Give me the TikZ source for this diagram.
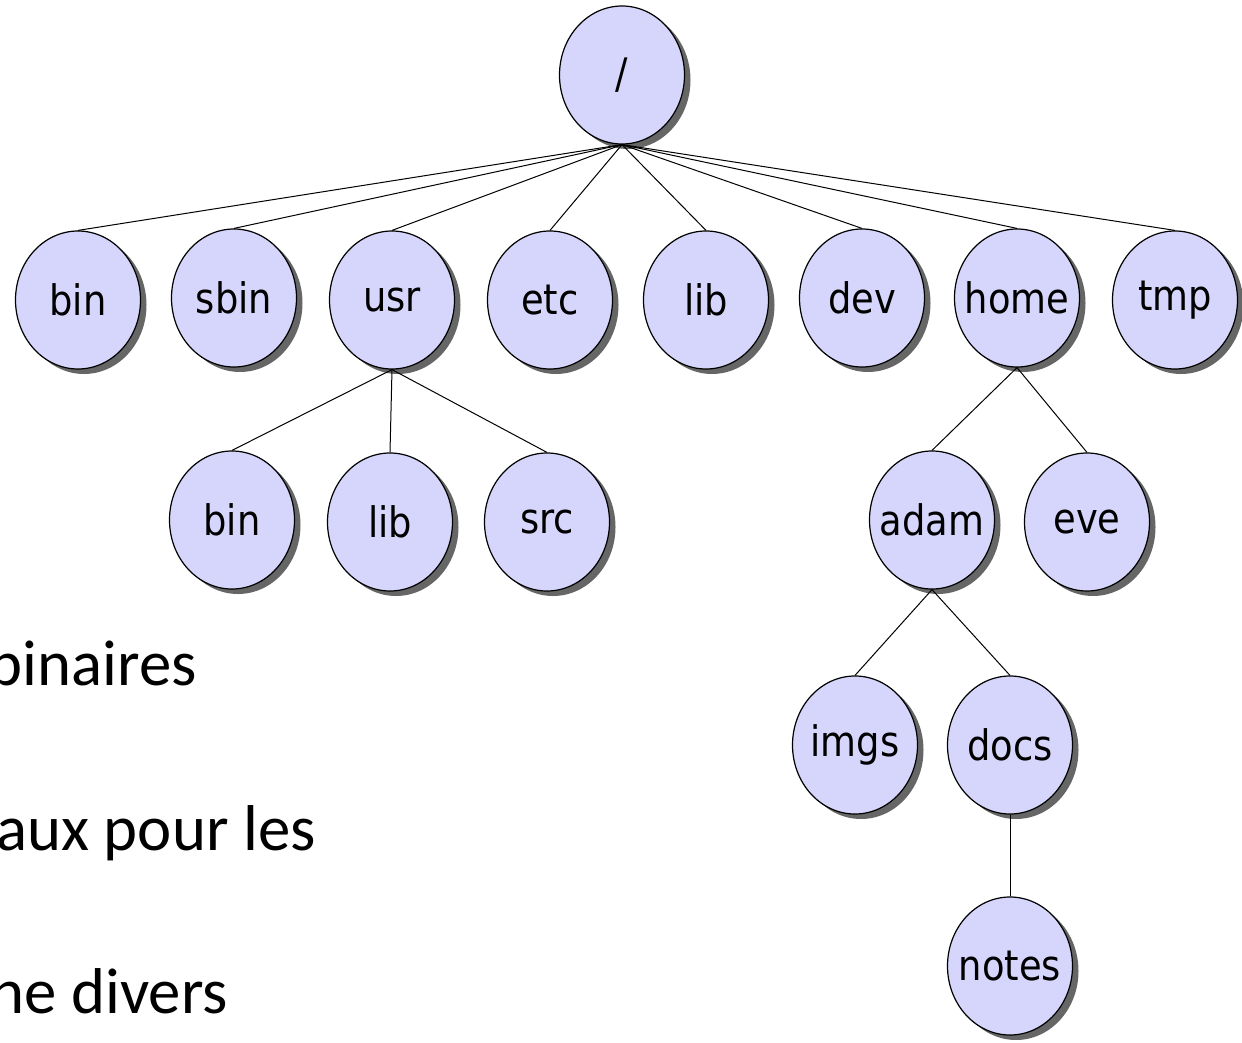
\documentclass[tikz,border=0pt]{standalone}
\usepackage{fontspec}
\usepackage{graphicx}
\setmainfont{DejaVu Sans}
\newfontfamily\calib{Carlito}
\usetikzlibrary{shapes.geometric,shadows}
\definecolor{nodefill}{RGB}{214,214,252}
\newcommand\dirlbl[1]{\makebox[0pt]{\scalebox{1}[1.14]{#1}}}
\begin{document}
\begin{tikzpicture}[x=1bp,y=-1bp,
  dirnode/.style={ellipse,draw=black,line width=1.2bp,fill=nodefill,
    minimum width=125bp,minimum height=138bp,inner sep=0pt,
    font=\fontsize{37}{42}\selectfont,
    drop shadow={shadow xshift=6bp,shadow yshift=-5bp,fill=black!60,opacity=1}},
  link/.style={draw=black,line width=1bp},
  side/.style={anchor=base east,inner sep=0pt,font=\calib\fontsize{65}{78}\selectfont}]
\useasboundingbox (0,0) rectangle (1242,1043);
\clip (0,0) rectangle (1242,1043);
% left text (cut off at the left edge, as in the reference)
\node[side] (t1) at (197,685) {binaires};
\node[side] (t2) at (316,850) {aux pour les};
\node[side] (t3) at (228,1013) {ne divers};
% tree
\node[dirnode] (root) at (622,75) {\dirlbl{/}};
\node[dirnode] (bin)  at (78,300) {\dirlbl{bin}};
\node[dirnode] (sbin) at (234,298) {\dirlbl{sbin}};
\node[dirnode] (usr)  at (392,300) {\dirlbl{usr}};
\node[dirnode] (etc)  at (550,300) {\dirlbl{etc}};
\node[dirnode] (lib)  at (706,300) {\dirlbl{lib}};
\node[dirnode] (dev)  at (862,298) {\dirlbl{dev}};
\node[dirnode] (home) at (1017,298) {\dirlbl{home}};
\node[dirnode] (tmp)  at (1175,300) {\dirlbl{tmp}};
\node[dirnode] (ubin) at (232,520) {\dirlbl{bin}};
\node[dirnode] (ulib) at (390,522) {\dirlbl{lib}};
\node[dirnode] (usrc) at (547,522) {\dirlbl{src}};
\node[dirnode] (adam) at (932,520) {\dirlbl{adam}};
\node[dirnode] (eve)  at (1087,522) {\dirlbl{eve}};
\node[dirnode] (imgs) at (855,745) {\dirlbl{imgs}};
\node[dirnode] (docs) at (1010,745) {\dirlbl{docs}};
\node[dirnode] (notes) at (1010,966) {\dirlbl{notes}};
\foreach \c in {bin,sbin,usr,etc,lib,dev,home,tmp}
  \draw[link] (root.south) -- (\c.north);
\foreach \c in {ubin,ulib,usrc}
  \draw[link] (usr.south) -- (\c.north);
\foreach \c in {adam,eve}
  \draw[link] (home.south) -- (\c.north);
\foreach \c in {imgs,docs}
  \draw[link] (adam.south) -- (\c.north);
\draw[link] (docs.south) -- (notes.north);
\end{tikzpicture}
\end{document}
